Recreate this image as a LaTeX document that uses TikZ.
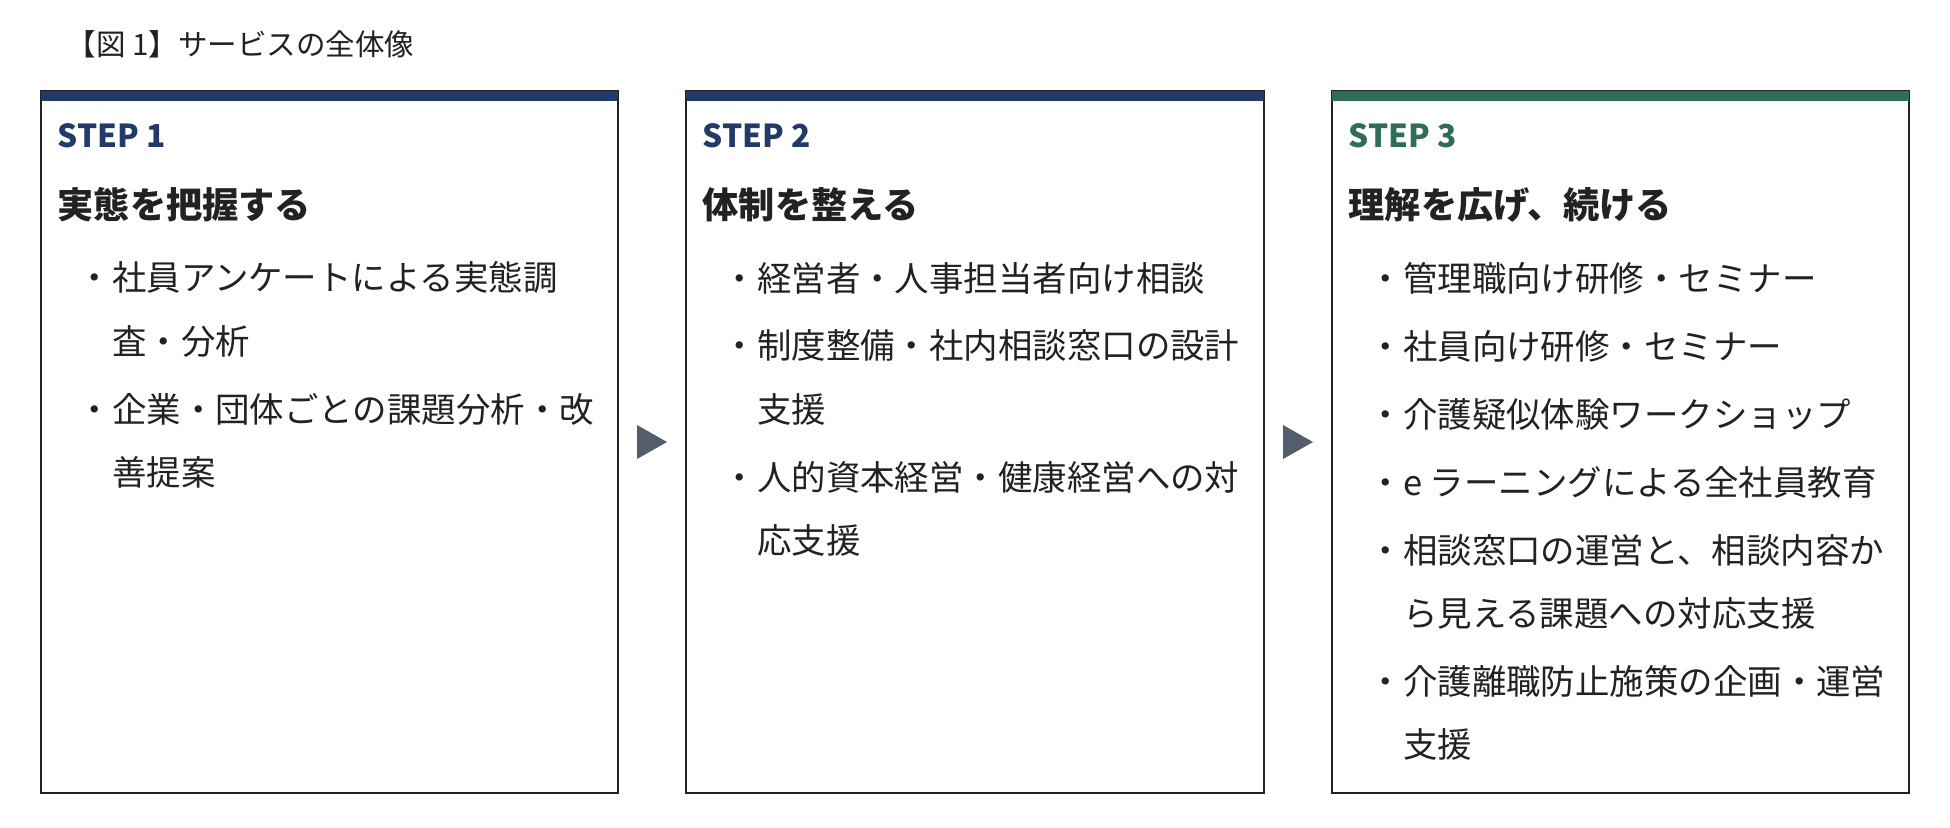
\documentclass[tikz,border=0pt]{standalone}
\usepackage{fontspec}
\setmainfont{Noto Sans CJK JP}
\definecolor{navy}{HTML}{213A6A}
\definecolor{pine}{HTML}{2D6E55}
\definecolor{slate}{HTML}{545D6C}
\definecolor{ink}{HTML}{222222}

\begin{document}
\begin{tikzpicture}[x=0.1mm, y=-0.1mm,
    frame/.style={draw=ink, line width=0.6pt, fill=white},
    stepno/.style={anchor=base west, inner sep=0pt, font=\fontsize{9pt}{11pt}\selectfont\bfseries},
    head/.style={anchor=base west, inner sep=0pt, text=ink, font=\fontsize{10.3pt}{12pt}\selectfont\bfseries},
    item/.style={anchor=base west, inner sep=0pt, text=ink, align=left, font=\fontsize{9.8pt}{17.93pt}\selectfont}]
    \useasboundingbox (0,0) rectangle (1950,827);
    % Title
    \node[anchor=base west, inner sep=0pt, text=ink, font=\fontsize{8.4pt}{10pt}\selectfont]
    (title) at (66,55) {【図 1】サービスの全体像};
    % Frames
    \draw[frame] (41,91) rectangle (618,793); % step 1
    \fill[navy] (41,91) rectangle (618,101);
    \draw[frame] (686,91) rectangle (1264,793); % step 2
    \fill[navy] (686,91) rectangle (1264,101);
    \draw[frame] (1332,91) rectangle (1909,793); % step 3
    \fill[pine] (1332,91) rectangle (1909,101);
    % Arrows
    \fill[slate] (637,425) -- (667,442) -- (637,459) -- cycle;
    \fill[slate] (1283,425) -- (1313,442) -- (1283,459) -- cycle;
    % Step 1 (two-line items sit on their last line)
    \node[stepno, text=navy] (s1) at (57,147) {STEP 1};
    \node[head] (h1) at (57,218) {実態を把握する};
    \node[item] (a1) at (77,354) {・社員アンケートによる実態調\\\hspace*{1em}査・分析};
    \node[item] (a2) at (77,485) {・企業・団体ごとの課題分析・改\\\hspace*{1em}善提案};
    % Step 2
    \node[stepno, text=navy] (s2) at (702,147) {STEP 2};
    \node[head] (h2) at (702,218) {体制を整える};
    \node[item] (b1) at (722,291) {・経営者・人事担当者向け相談};
    \node[item] (b2) at (722,422) {・制度整備・社内相談窓口の設計\\\hspace*{1em}支援};
    \node[item] (b3) at (722,553) {・人的資本経営・健康経営への対\\\hspace*{1em}応支援};
    % Step 3
    \node[stepno, text=pine] (s3) at (1348,147) {STEP 3};
    \node[head] (h3) at (1348,218) {理解を広げ、続ける};
    \node[item] (c1) at (1368,291) {・管理職向け研修・セミナー};
    \node[item] (c2) at (1368,359) {・社員向け研修・セミナー};
    \node[item] (c3) at (1368,427) {・介護疑似体験ワークショップ};
    \node[item] (c4) at (1368,495) {・e ラーニングによる全社員教育};
    \node[item] (c5) at (1368,626) {・相談窓口の運営と、相談内容か\\\hspace*{1em}ら見える課題への対応支援};
    \node[item] (c6) at (1368,757) {・介護離職防止施策の企画・運営\\\hspace*{1em}支援};
\end{tikzpicture}
\end{document}
